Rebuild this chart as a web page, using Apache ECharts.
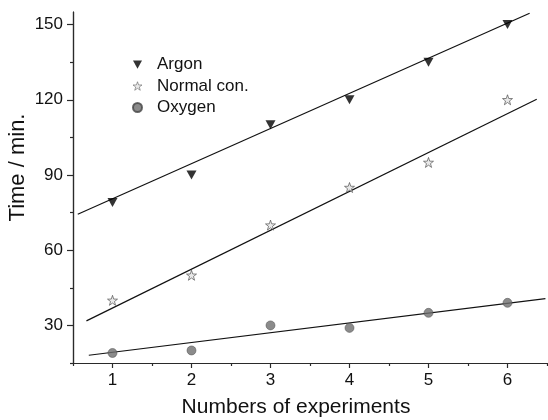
<!DOCTYPE html>
<html>
<head>
<meta charset="utf-8">
<script src="https://cdn.jsdelivr.net/npm/echarts@6/dist/echarts.min.js"></script>
<style>
html,body{margin:0;padding:0;background:#fff;}
#chart{width:548px;height:420px;}
</style>
</head>
<body>
<div id="chart"></div>
<script>
// ---- data ----
const experiments = [1, 2, 3, 4, 5, 6];
const argon = [79, 90, 110, 120, 135, 150];
const normalCon = [40, 50, 70, 85, 95, 120];
const oxygen = [19, 20, 30, 29, 35, 39];
// fitted straight lines (end points)
const argonFit = [[0.56, 74.3], [6.28, 154.5]];
const normalFit = [[0.67, 31.8], [6.37, 120.2]];
const oxygenFit = [[0.70, 18.1], [6.48, 40.7]];
// axis ticks
const xTicks = [1, 2, 3, 4, 5, 6];
const xMinorTicks = [0.5, 1.5, 2.5, 3.5, 4.5, 5.5, 6.5];
const yTicks = [30, 60, 90, 120, 150];
const yMinorTicks = [15, 45, 75, 105, 135];
const seriesNames = ['Argon', 'Normal con.', 'Oxygen'];

const pts = (vals) => experiments.map((x, i) => [x, vals[i]]);

const FONT = 'Liberation Sans, Arial, sans-serif';
const AXC = '#2a2a2a';
const starPath = 'path://M10,0 L12.35,6.76 L19.51,6.91 L13.8,11.24 L15.88,18.09 L10,14 L4.12,18.09 L6.2,11.24 L0.49,6.91 L7.65,6.76 Z';
const triPath = 'path://M0,0 L12,0 L6,11 Z';

// tick-only helper axes (optionally carrying the axis line)
const tickAxis = (min, max, pos, values, len, withLine) => ({
  type: 'value', min: min, max: max, position: pos, offset: 0,
  axisLine: { show: !!withLine, onZero: false, lineStyle: { color: AXC, width: 1.2 } },
  axisTick: { show: true, length: len, customValues: values, lineStyle: { color: AXC, width: 1.2 } },
  axisLabel: { show: false },
  splitLine: { show: false }
});

const chart = echarts.init(document.getElementById('chart'), null, { renderer: 'canvas' });
chart.setOption({
  animation: false,
  backgroundColor: '#fff',
  grid: { left: 73, right: 1, top: 12, bottom: 57, containLabel: false, outerBoundsMode: 'none' },
  legend: {
    orient: 'vertical',
    left: 127,
    top: 51,
    itemWidth: 9,
    itemHeight: 9,
    itemGap: 4.5,
    data: [
      { name: seriesNames[0] },
      { name: seriesNames[1], itemStyle: { borderWidth: 0.6 } },
      { name: seriesNames[2] }
    ],
    textStyle: { fontFamily: FONT, fontSize: 17, color: '#111', lineHeight: 17, padding: [0, 0, 0, 10] }
  },
  xAxis: [
    {
      type: 'value', min: 0.5, max: 6.5, position: 'bottom',
      axisLine: { show: true, onZero: false, lineStyle: { color: AXC, width: 1.2 } },
      axisTick: { show: false },
      axisLabel: { customValues: xTicks, margin: 9, fontFamily: FONT, fontSize: 17, color: '#111' },
      splitLine: { show: false },
      name: 'Numbers of experiments', nameLocation: 'middle', nameGap: 34, nameMoveOverlap: false,
      nameTextStyle: { fontFamily: FONT, fontSize: 21, color: '#111', padding: [0, 28, 0, 0] }
    },
    tickAxis(0.5, 6.5, 'bottom', xTicks, 5, false),
    tickAxis(0.5, 6.5, 'bottom', xMinorTicks, 3, true)
  ],
  yAxis: [
    {
      type: 'value', min: 15, max: 155, position: 'left',
      axisLine: { show: true, onZero: false, lineStyle: { color: AXC, width: 1.2 } },
      axisTick: { show: false },
      axisLabel: { customValues: yTicks, margin: 10, fontFamily: FONT, fontSize: 17, color: '#111' },
      splitLine: { show: false },
      name: 'Time / min.', nameLocation: 'middle', nameGap: 44, nameMoveOverlap: false,
      nameTextStyle: { fontFamily: FONT, fontSize: 22, color: '#111', padding: [0, 0, 0, 40] }
    },
    tickAxis(15, 155, 'left', yTicks, 6, false),
    tickAxis(15, 155, 'left', yMinorTicks, 3, true)
  ],
  series: [
    { type: 'line', data: argonFit, symbol: 'none', silent: true, lineStyle: { color: '#111', width: 1.2 }, z: 1 },
    { type: 'line', data: normalFit, symbol: 'none', silent: true, lineStyle: { color: '#111', width: 1.2 }, z: 1 },
    { type: 'line', data: oxygenFit, symbol: 'none', silent: true, lineStyle: { color: '#111', width: 1.2 }, z: 1 },
    {
      name: seriesNames[0], type: 'scatter', data: pts(argon),
      symbol: triPath, symbolSize: [10, 9],
      itemStyle: { color: '#000' }, z: 3
    },
    {
      name: seriesNames[1], type: 'scatter', data: pts(normalCon),
      symbol: starPath, symbolSize: 10,
      itemStyle: { color: '#e4e4e4', borderColor: '#444', borderWidth: 0.8 }, z: 3
    },
    {
      name: seriesNames[2], type: 'scatter', data: pts(oxygen),
      symbol: 'circle', symbolSize: 9,
      itemStyle: { color: '#6e6e6e', borderColor: '#444', borderWidth: 0.6 }, z: 3
    }
  ]
});
</script>
</body>
</html>
